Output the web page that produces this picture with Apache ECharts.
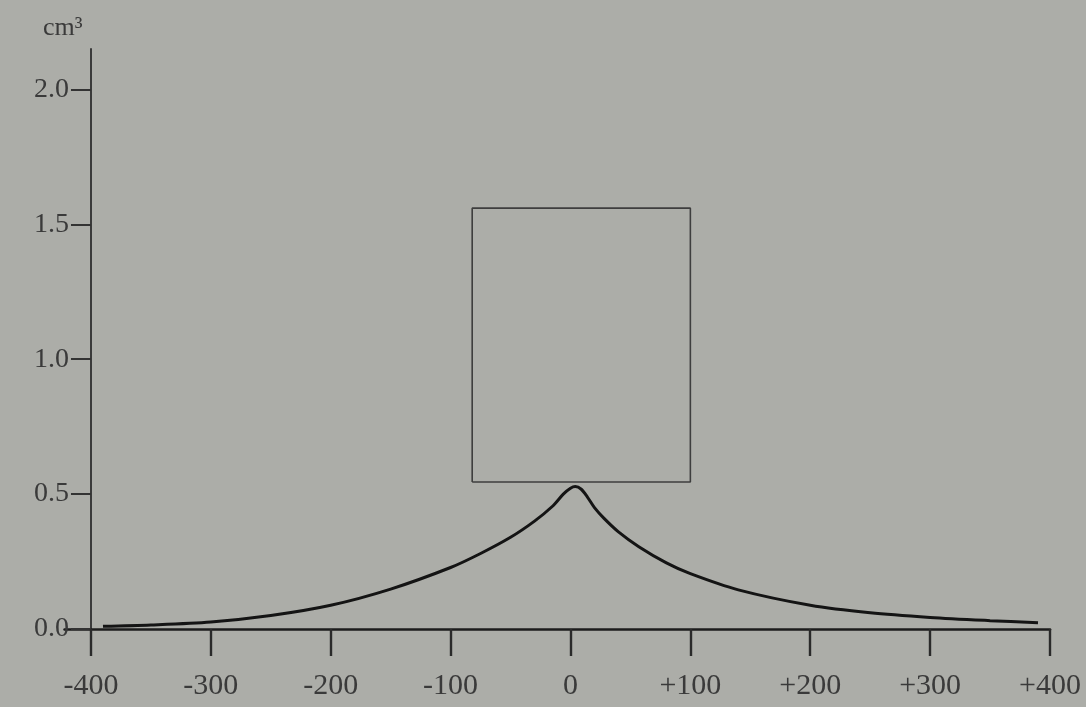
<!DOCTYPE html>
<html>
<head>
<meta charset="utf-8">
<script src="https://cdn.jsdelivr.net/npm/echarts@6/dist/echarts.min.js"></script>
<style>
html,body{margin:0;padding:0;background:#acada8;}
#chart{width:1086px;height:707px;}
</style>
</head>
<body>
<div id="chart"></div>
<script>
// ---- data ----
const curveX = [-390, -350, -300, -250, -200, -150, -100, -75, -50, -30, -15, -6, 0, 4, 9, 14, 20, 28, 40, 57, 80, 100, 140, 200, 250, 300, 350, 390];
const curveY = [0.010, 0.015, 0.026, 0.050, 0.088, 0.148, 0.228, 0.28, 0.34, 0.40, 0.455, 0.50, 0.522, 0.528, 0.518, 0.49, 0.45, 0.41, 0.36, 0.305, 0.245, 0.205, 0.145, 0.088, 0.060, 0.043, 0.031, 0.023];
const boxX = [-82, 100, 100, -82, -82];
const boxY = [0.545, 0.545, 1.56, 1.56, 0.545];
const xTickValues = [-400, -300, -200, -100, 0, 100, 200, 300, 400];
const xTickLabels = ['-400', '-300', '-200', '-100', '0', '+100', '+200', '+300', '+400'];
const yTickValues = [0, 0.5, 1.0, 1.5, 2.0];
const yTickLabels = ['0.0', '0.5', '1.0', '1.5', '2.0'];
const yUnit = 'cm\u00b3';

// ---- layout ----
const X_MIN = -422, X_MAX = 400, Y_MIN = 0, Y_MAX = 2.15;
const gridLeft = 64.6, gridRight = 36, gridTop = 49, gridBottom = 78;
const gridW = 1086 - gridLeft - gridRight;
const yAxisOffset = -gridW * (-400 - X_MIN) / (X_MAX - X_MIN);

const font = 'Liberation Serif';
const ink = '#3a3a3a';

const chart = echarts.init(document.getElementById('chart'), null, {renderer: 'canvas'});
chart.setOption({
  backgroundColor: '#acada8',
  animation: false,
  title: {
    text: yUnit, left: 38, top: 10,
    textStyle: {fontFamily: font, fontSize: 26, fontWeight: 'normal', color: ink}
  },
  grid: {left: gridLeft, right: gridRight, top: gridTop, bottom: gridBottom},
  xAxis: {
    type: 'value', min: X_MIN, max: X_MAX,
    splitLine: {show: false},
    axisLine: {show: true, onZero: false, lineStyle: {color: '#1c1c1c', width: 2.6}},
    axisTick: {show: true, inside: false, length: 27, customValues: xTickValues,
      lineStyle: {color: '#2a2a2a', width: 2.4}},
    axisLabel: {
      customValues: xTickValues, margin: 42,
      fontFamily: font, fontSize: 30, color: ink,
      formatter: v => xTickLabels[xTickValues.indexOf(v)]
    }
  },
  yAxis: {
    type: 'value', min: Y_MIN, max: Y_MAX,
    offset: yAxisOffset,
    splitLine: {show: false},
    axisLine: {show: true, onZero: false, lineStyle: {color: '#3a3a3a', width: 2}},
    axisTick: {show: true, length: 20, customValues: yTickValues,
      lineStyle: {color: '#333', width: 2}},
    axisLabel: {
      customValues: yTickValues, margin: 22,
      fontFamily: font, fontSize: 28, color: ink,
      formatter: v => yTickLabels[yTickValues.indexOf(v)]
    }
  },
  series: [
    {
      type: 'line', name: 'box',
      data: boxX.map((x, i) => [x, boxY[i]]),
      showSymbol: false, symbol: 'none',
      lineStyle: {color: '#3e3e3e', width: 1.6},
      z: 2
    },
    {
      type: 'line', name: 'curve',
      data: curveX.map((x, i) => [x, curveY[i]]),
      showSymbol: false, symbol: 'none',
      smooth: 0.3,
      lineStyle: {color: '#141414', width: 3},
      z: 3
    }
  ]
});
</script>
</body>
</html>
